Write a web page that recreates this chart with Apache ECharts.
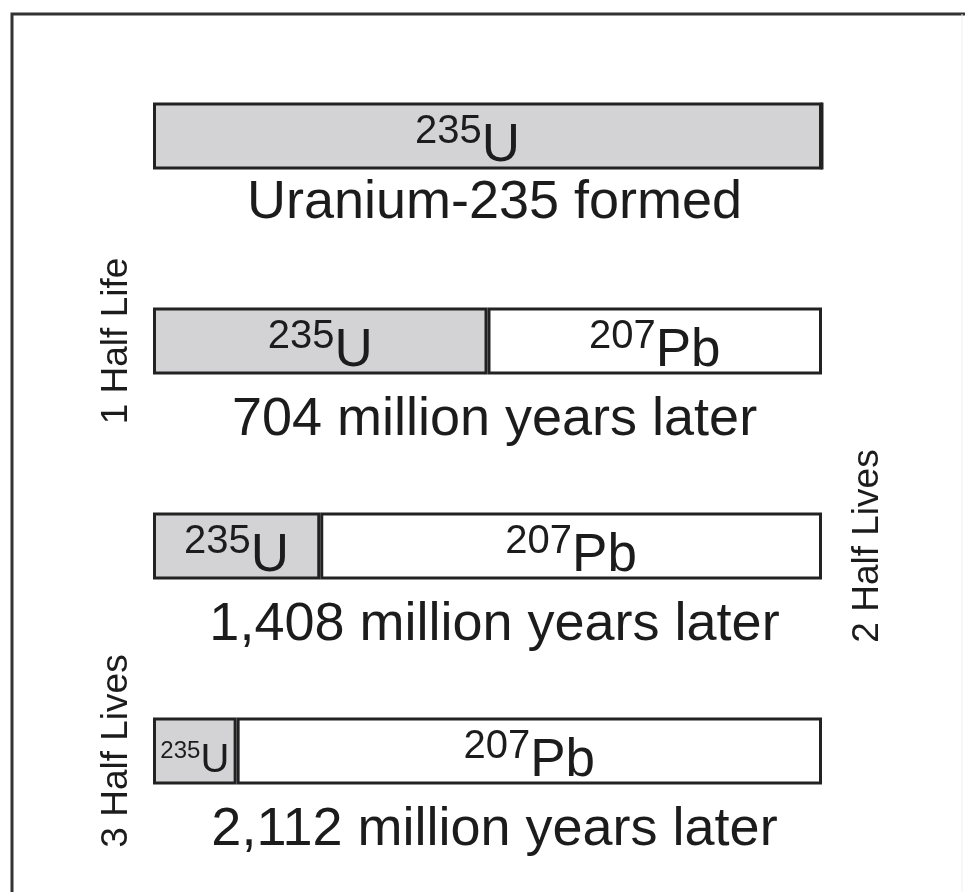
<!DOCTYPE html>
<html>
<head>
<meta charset="utf-8">
<title>U-235 decay to Pb-207</title>
<script src="https://cdn.jsdelivr.net/npm/echarts@6/dist/echarts.min.js"></script>
<style>
  html, body {
    margin: 0;
    padding: 0;
    background: #fff;
  }
  #chart {
    width: 965px;
    height: 892px;
  }
</style>
</head>
<body>
<div id="chart"></div>
<script>
// one row per stage, top to bottom
const captions = [
  'Uranium-235 formed',
  '704 million years later',
  '1,408 million years later',
  '2,112 million years later'
]
// share of the original U-235 left, and Pb-207 formed (percent)
const uranium = [100, 50, 25, 12.5]
const lead = [0, 50, 75, 87.5]
// rotated notes beside the bars
const leftNotes = ['', '1 Half Life', '', '3 Half Lives']
const rightNotes = ['', '', '2 Half Lives', '']

const font = '"Liberation Sans", Arial, Helvetica, sans-serif'
const ink = '#1c1c1c'
const edge = '#222'

const chart = echarts.init(document.getElementById('chart'))

// isotope label, the small box in the last row gets smaller text
const isotopeRich = {
  sup: { fontSize: 40, lineHeight: 40, verticalAlign: 'top', color: ink, fontFamily: font },
  big: { fontSize: 53, lineHeight: 68, color: ink, fontFamily: font },
  supS: { fontSize: 24, lineHeight: 24, verticalAlign: 'top', color: ink, fontFamily: font },
  bigS: { fontSize: 40, lineHeight: 44, color: ink, fontFamily: font }
}

const option = {
  animation: false,
  grid: {
    left: 153,
    right: 143,
    top: 33.5,
    bottom: 38.5
  },
  xAxis: {
    type: 'value',
    min: 0,
    max: 100,
    show: false
  },
  yAxis: [
    {
      type: 'category',
      data: leftNotes,
      inverse: true,
      position: 'left',
      axisLine: { show: false },
      axisTick: { show: false },
      axisLabel: {
        interval: 0,
        rotate: 90,
        margin: 18,
        fontSize: 37,
        color: ink,
        fontFamily: font
      }
    },
    {
      type: 'category',
      data: rightNotes,
      inverse: true,
      position: 'right',
      axisLine: { show: false },
      axisTick: { show: false },
      axisLabel: {
        interval: 0,
        rotate: 90,
        margin: 27,
        fontSize: 37,
        color: ink,
        fontFamily: font
      }
    }
  ],
  series: [
    {
      name: '235U',
      type: 'bar',
      stack: 'total',
      barWidth: 67,
      barGap: '-100%',
      silent: true,
      // the full-width first box has its label drawn a bit left of centre
      data: uranium.map((u, i) => i === 0 ? { value: u, label: { offset: [-20, 10] } } : u),
      itemStyle: { color: '#d3d3d5', borderColor: edge, borderWidth: 3 },
      label: {
        show: true,
        position: 'inside',
        offset: [0, 10],
        rich: isotopeRich,
        formatter: p => p.value < 20 ? '{supS|235}{bigS|U}' : '{sup|235}{big|U}'
      }
    },
    {
      name: '207Pb',
      type: 'bar',
      stack: 'total',
      barWidth: 67,
      silent: true,
      data: lead,
      itemStyle: { color: '#fff', borderColor: edge, borderWidth: 3 },
      label: {
        show: true,
        position: 'inside',
        offset: [0, 10],
        rich: isotopeRich,
        formatter: p => p.value > 0 ? '{sup|207}{big|Pb}' : ''
      }
    },
    {
      // transparent full-width bar, only carries the caption under each row
      name: 'caption',
      type: 'bar',
      barWidth: 67,
      silent: true,
      z: 1,
      // the first caption sits a little tighter under its bar
      data: uranium.map((u, i) => ({
        value: u + lead[i],
        label: { distance: i === 0 ? 7 : 19 }
      })),
      itemStyle: { color: 'rgba(0,0,0,0)', borderWidth: 0 },
      label: {
        show: true,
        position: 'bottom',
        offset: [7, 0],
        fontSize: 54,
        color: ink,
        fontFamily: font,
        formatter: p => captions[p.dataIndex]
      }
    }
  ],
  graphic: [
    {
      type: 'polyline',
      silent: true,
      shape: { points: [[12, 892], [12, 14], [965, 14]] },
      style: { fill: null, stroke: '#333', lineWidth: 3 }
    },
    {
      type: 'line',
      silent: true,
      shape: { x1: 962, y1: 14, x2: 962, y2: 892 },
      style: { stroke: '#f0f0f0', lineWidth: 1 }
    }
  ]
}

chart.setOption(option)

window.addEventListener('resize', () => chart.resize())
</script>
</body>
</html>
